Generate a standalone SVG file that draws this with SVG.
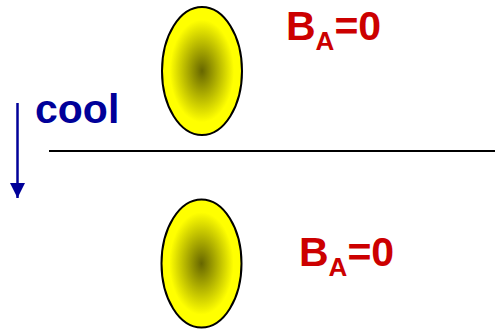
<svg xmlns="http://www.w3.org/2000/svg" width="495" height="330" viewBox="0 0 495 330">
<style>
.lbl{font-family:"Liberation Sans",Arial,sans-serif;font-weight:bold;fill:#CC0000;font-size:41px}
.sub{font-size:26px}
.cool{font-family:"Liberation Sans",Arial,sans-serif;font-weight:bold;fill:#000099;font-size:41px}
.blob{fill:url(#g);stroke:#000;stroke-width:2}
</style>
<defs>
<radialGradient id="g" cx="0.5" cy="0.5" r="0.5">
<stop offset="0" stop-color="#666600"/>
<stop offset="0.4" stop-color="#B3B300"/>
<stop offset="0.8" stop-color="#FFFF00"/>
<stop offset="1" stop-color="#FFFF00"/>
</radialGradient>
<marker id="ah" markerWidth="15" markerHeight="15" refX="15" refY="7.5" orient="auto" markerUnits="userSpaceOnUse">
<path d="M0,0 L15,7.5 L0,15 Z" fill="#000099"/>
</marker>
</defs>
<g id="top">
<ellipse class="blob" cx="202" cy="71" rx="40" ry="64"/>
<text class="lbl" x="286" y="40">B<tspan class="sub" dy="10">A</tspan><tspan dy="-10">=0</tspan></text>
</g>
<g id="bottom">
<ellipse class="blob" cx="201.5" cy="263.5" rx="40" ry="64"/>
<text class="lbl" x="299" y="266">B<tspan class="sub" dy="10">A</tspan><tspan dy="-10">=0</tspan></text>
</g>
<g id="cool">
<text class="cool" x="35" y="123">cool</text>
</g>
<g id="connectors">
<line x1="17.5" y1="103" x2="17.5" y2="198" stroke="#000099" stroke-width="2.5" marker-end="url(#ah)"/>
<line x1="49" y1="151" x2="495" y2="151" stroke="#000" stroke-width="2"/>
</g>
</svg>
